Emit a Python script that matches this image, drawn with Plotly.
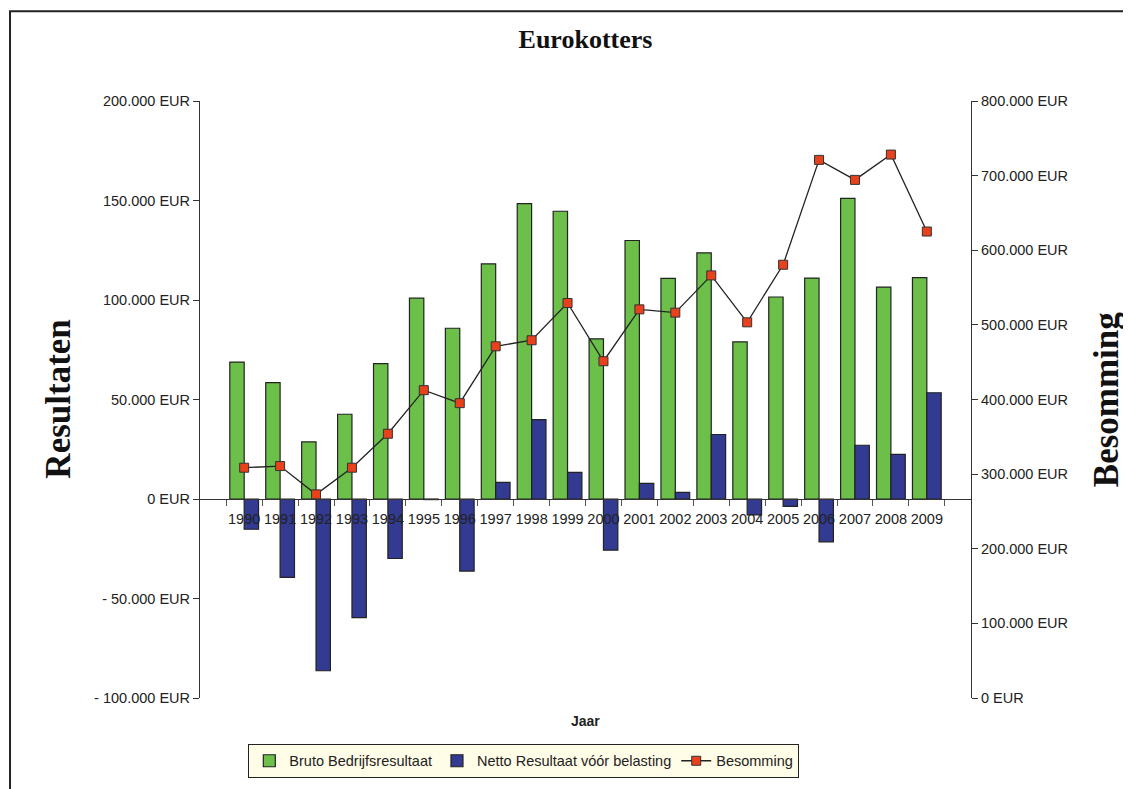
import plotly.graph_objs as go

# gegevens
jaren = [str(j) for j in range(1990, 2010)]
bruto = [68800, 58500, 28700, 42600, 68000, 100900, 85800, 118200, 148400, 144600,
         80500, 129900, 110900, 123700, 79000, 101500, 111000, 151100, 106500, 111200]
netto = [-15200, -39400, -86300, -59600, -29900, -300, -36200, 8400, 39900, 13400,
         -25700, 7900, 3300, 32400, -8000, -3700, -21500, 27000, 22400, 53400]
besomming = [308600, 310800, 272900, 308600, 354100, 412500, 395100, 471300, 479400, 529300,
             451300, 520800, 516400, 566300, 503400, 580600, 721100, 694300, 728200, 625100]

links_vals = [200000, 150000, 100000, 50000, 0, -50000, -100000]
links_text = ['200.000 EUR', '150.000 EUR', '100.000 EUR', '50.000 EUR', '0 EUR',
              '- 50.000 EUR', '- 100.000 EUR']
rechts_vals = [800000, 700000, 600000, 500000, 400000, 300000, 200000, 100000, 0]
rechts_text = ['800.000 EUR', '700.000 EUR', '600.000 EUR', '500.000 EUR', '400.000 EUR',
               '300.000 EUR', '200.000 EUR', '100.000 EUR', '0 EUR']

tekst = dict(family='Liberation Sans, Arial', size=14.5, color='#222222')
serif = 'Liberation Serif, Times New Roman'

fig = go.Figure()
fig.add_trace(go.Bar(
    x=jaren, y=bruto, name='Bruto Bedrijfsresultaat',
    marker=dict(color='#6CC04A', line=dict(color='#222222', width=1.2))
))
fig.add_trace(go.Bar(
    x=jaren, y=netto, name='Netto Resultaat vóór belasting',
    marker=dict(color='#333A91', line=dict(color='#222222', width=1.2))
))
fig.add_trace(go.Scatter(
    x=jaren, y=besomming, name='Besomming', yaxis='y2',
    mode='lines+markers',
    line=dict(color='#222222', width=1.3),
    marker=dict(symbol='square', size=9, color='#E8411C',
                line=dict(color='#333333', width=1))
))

# y = 0 ligt op 1/3 van de hoogte
nul_pos = 100000.0 / 300000.0

# de pagina heeft 8px marge rondom, vandaar 1123 x 781
fig.update_layout(
    width=1123, height=781,
    paper_bgcolor='white', plot_bgcolor='white',
    margin=dict(l=192, r=160, t=93, b=90),
    barmode='group', bargap=0.2, bargroupgap=0,
    font=tekst,
    title=dict(text='<b>Eurokotters</b>', x=0.5, xref='paper', y=0.96, yanchor='middle',
               font=dict(family=serif, size=26, color='#111111')),
    xaxis=dict(
        type='category', anchor='free', position=nul_pos,
        showline=True, linecolor='#333333', linewidth=1.2,
        ticks='outside', ticklen=6, tickwidth=1, tickcolor='#555555',
        tickson='boundaries', tickangle=0, tickfont=tekst, ticklabelstandoff=6,
        showgrid=False, zeroline=False,
    ),
    yaxis=dict(
        range=[-100000, 200000], tickvals=links_vals, ticktext=links_text,
        showline=True, linecolor='#333333', linewidth=1.2,
        ticks='outside', ticklen=6, tickcolor='#333333',
        showgrid=False, zeroline=False, tickfont=tekst,
    ),
    yaxis2=dict(
        range=[0, 800000], tickvals=rechts_vals, ticktext=rechts_text,
        overlaying='y', side='right', anchor='x',
        showline=True, linecolor='#333333', linewidth=1.2,
        ticks='outside', ticklen=6, tickcolor='#333333',
        showgrid=False, zeroline=False, tickfont=tekst,
    ),
    legend=dict(
        orientation='h', x=0.42, xanchor='center', y=-0.075, yanchor='top',
        bgcolor='#FFFCE8', bordercolor='#222222', borderwidth=1,
        font=dict(family='Liberation Sans, Arial', size=14.5, color='#222222'),
        itemwidth=30, tracegroupgap=0,
    ),
    annotations=[
        dict(text='<b>Resultaten</b>', xref='paper', yref='paper', x=-0.184, y=0.5,
             xanchor='center', yanchor='middle', textangle=-90, showarrow=False,
             font=dict(family=serif, size=35, color='#111111')),
        dict(text='<b>Besomming</b>', xref='paper', yref='paper', x=1.176, y=0.5,
             xanchor='center', yanchor='middle', textangle=-90, showarrow=False,
             font=dict(family=serif, size=35, color='#111111')),
        dict(text='<b>Jaar</b>', xref='paper', yref='paper', x=0.5, y=-0.038,
             xanchor='center', yanchor='middle', showarrow=False,
             font=dict(family='Liberation Sans, Arial', size=14, color='#222222')),
    ],
    shapes=[
        dict(type='rect', xref='paper', yref='paper',
             x0=-0.2464, x1=1.25, y0=-0.2, y1=1.1505,
             line=dict(color='#222222', width=2), layer='below'),
    ],
)

fig.write_html("out.html")
